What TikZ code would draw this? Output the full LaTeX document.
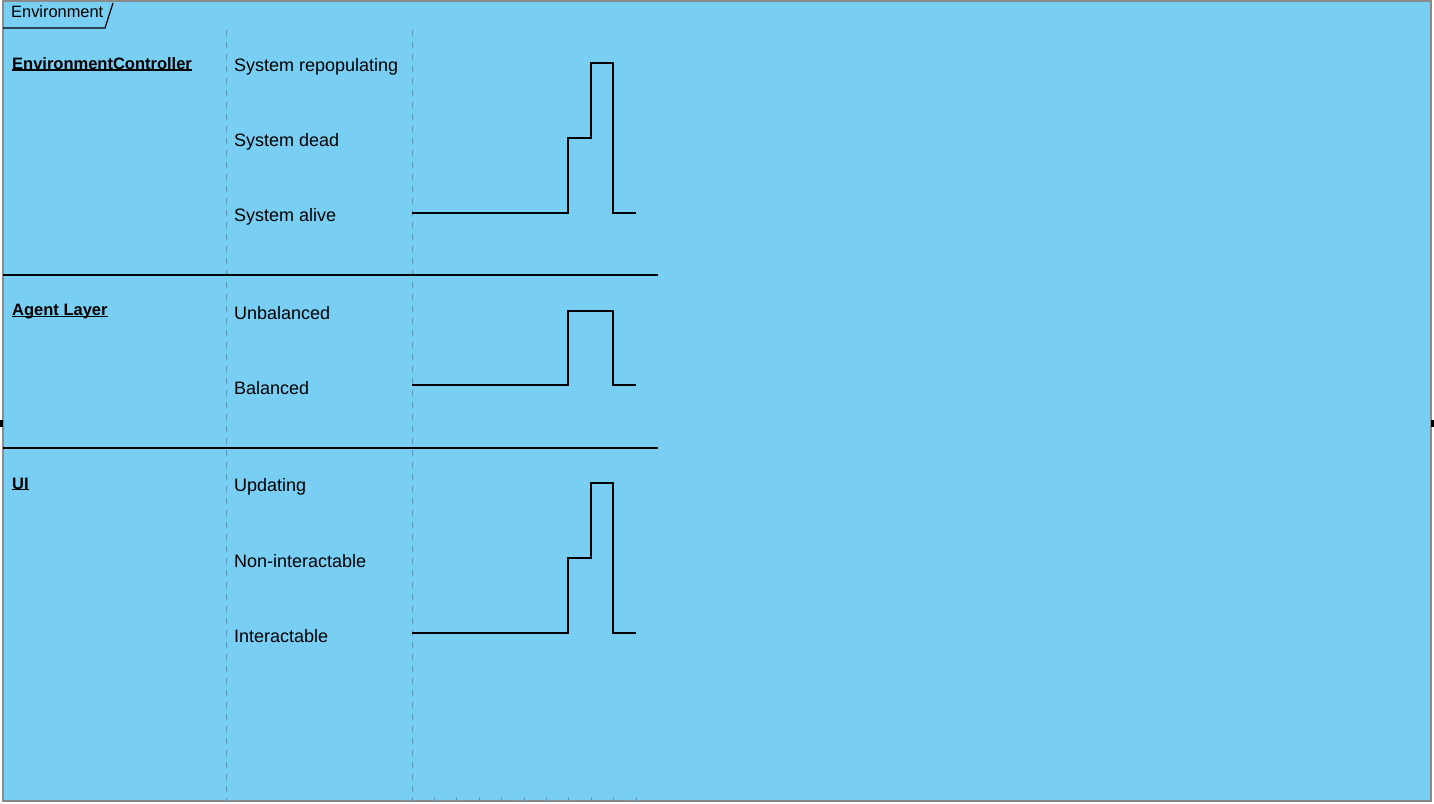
\documentclass[tikz,border=0pt]{standalone}
\usepackage{fontspec}
\setmainfont{Liberation Sans}
\definecolor{envbg}{HTML}{79CEF4}
\definecolor{lifeln}{HTML}{5B9BBA}
\definecolor{framegray}{HTML}{8A8A8A}
\newcommand{\lanename}[1]{\setbox0\hbox{#1}\rlap{\rule[-1.2pt]{\wd0}{1.2pt}}\box0}
\tikzset{
  lane/.style={font=\fontsize{16.5}{19}\selectfont\bfseries, anchor=west, inner sep=0pt},
  state/.style={font=\fontsize{18}{21}\selectfont, anchor=west, inner sep=0pt},
  wave/.style={black, line width=1.6pt},
  sep/.style={black, line width=1.3pt},
  grid/.style={lifeln, dashed, dash pattern=on 6pt off 6pt, line width=1pt}
}
\begin{document}
\begin{tikzpicture}[x=1pt,y=-1pt]
  \useasboundingbox (0,0) rectangle (1434,803);
  % frame
  \fill[white] (0,0) rectangle (1434,803);
  \filldraw[fill=envbg, draw=framegray, line width=1.5pt] (3,1) rectangle (1431,801);
  \draw[black, line width=1.2pt] (3,28) -- (105,28) -- (113,3);
  \node (frame) [font=\fontsize{16.4}{19}\selectfont, anchor=west, inner sep=0pt] at (11,12) {Environment};
  \fill[black] (0,420) rectangle (3,427);
  \fill[black] (1431,420) rectangle (1434,427);

  % lifeline columns
  \draw[grid] (226,30) -- (226,801);
  \draw[grid] (412,30) -- (412,801);
  \foreach \k in {0,...,10}
    \draw[lifeln, line width=1pt] (412+22.4*\k,797) -- (412+22.4*\k,801);

  % separators
  \draw[sep] (3,275) -- (658,275);
  \draw[sep] (3,448) -- (658,448);

  % lanes
  \node (ctrl) [lane] at (12,64) {\lanename{EnvironmentController}};
  \node (agent) [lane] at (12,312) {\lanename{Agent Layer}};
  \node (ui) [lane] at (12,484) {\lanename{UI}};

  % states
  \node (repop) [state] at (234,66.5) {System repopulating};
  \node (dead) [state] at (234,141.5) {System dead};
  \node (alive) [state] at (234,216.5) {System alive};
  \node (unbal) [state] at (234,313.5) {Unbalanced};
  \node (bal) [state] at (234,388.5) {Balanced};
  \node (upd) [state] at (234,486.5) {Updating};
  \node (nonint) [state] at (234,561.5) {Non-interactable};
  \node (inter) [state] at (234,636.5) {Interactable};

  % timing waves
  \draw[wave] (412,213) -- (568,213) -- (568,138) -- (591,138) -- (591,63) -- (613,63) -- (613,213) -- (636,213);
  \draw[wave] (412,385) -- (568,385) -- (568,311) -- (613,311) -- (613,385) -- (636,385);
  \draw[wave] (412,633) -- (568,633) -- (568,558) -- (591,558) -- (591,483) -- (613,483) -- (613,633) -- (636,633);
\end{tikzpicture}
\end{document}
